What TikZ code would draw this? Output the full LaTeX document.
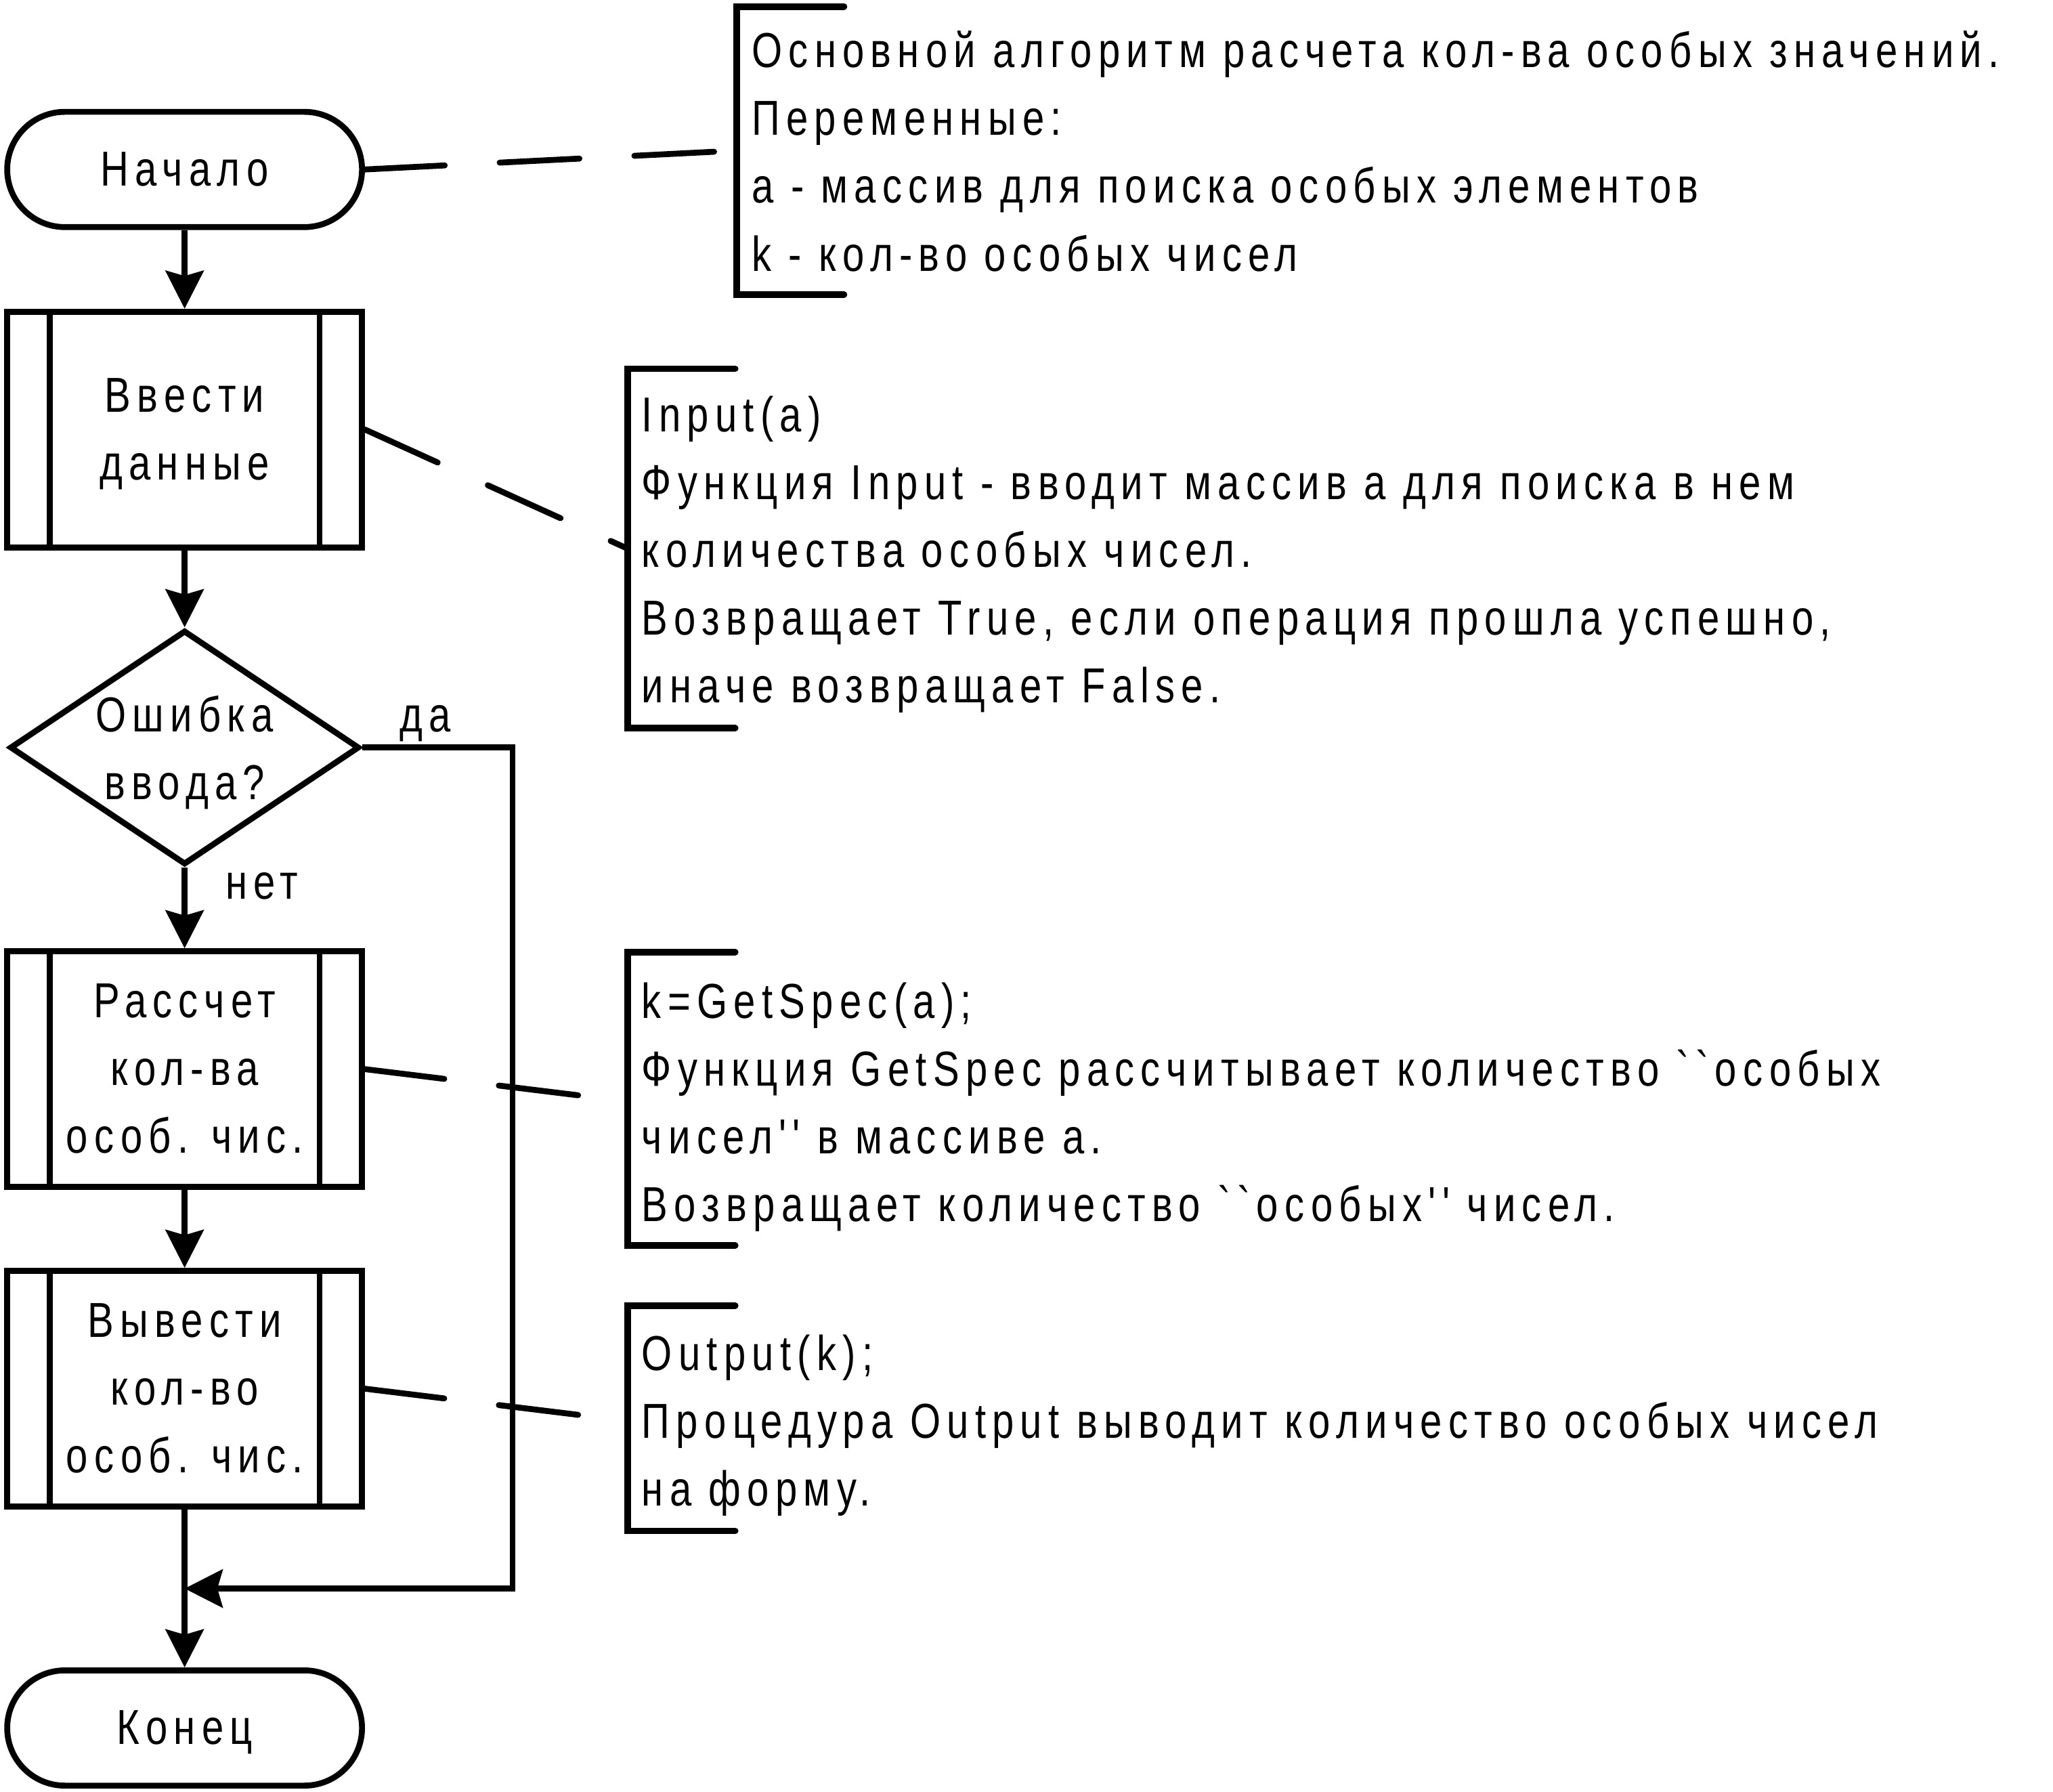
\documentclass[tikz,border=0pt]{standalone}
\usepackage{fontspec}
\newfontfamily\gost{Liberation Sans}[FakeStretch=0.8,LetterSpace=12.8]
\usetikzlibrary{arrows.meta,shapes.geometric}
\newcommand\fctext[2]{\raisebox{-#1pt}[0pt][0pt]{\vbox{\baselineskip=51.7pt\halign{\hfil##\hfil\cr#2\cr}}}}
\newcommand\notelines[1]{\vtop{\baselineskip=51.8pt\halign{##\hfil\cr#1\cr}}}
\tikzset{
  term/.style={draw, rectangle, rounded corners=44pt, minimum width=271pt, minimum height=88pt, inner sep=0pt},
  proc/.style={draw, rectangle, minimum width=271pt, minimum height=180pt, inner sep=0pt},
  decision/.style={draw, diamond, minimum width=267pt, minimum height=179pt, inner sep=0pt},
  flow/.style={-{Stealth[length=29pt,width=29pt,inset=4pt]}},
  lbl/.style={anchor=base west, inner sep=0pt},
  notetext/.style={anchor=base west, inner sep=0pt},
  bracket/.style={line width=5pt, line cap=round},
  callout/.style={dash pattern=on 61pt off 42pt, line cap=round},
}
\begin{document}
\begin{tikzpicture}[x=1pt, y=-1pt, line width=4.5pt, font=\gost\fontsize{37.5pt}{51.7pt}\selectfont]
\useasboundingbox (0,0) rectangle (1568,1368);

% flowchart nodes
\node[term] (start) at (141,129.4) {\fctext{12.5}{Начало}};
\node[proc] (inp) at (141,328) {\fctext{38.35}{Ввести\cr данные}};
\node[decision] (dec) at (141,570.8) {\fctext{39.5}{Ошибка\cr ввода?}};
\node[proc] (calc) at (141,816.4) {\fctext{64.2}{Рассчет\cr кол-ва\cr особ. чис.}};
\node[proc] (outp) at (141,1060.4) {\fctext{64.2}{Вывести\cr кол-во\cr особ. чис.}};
\node[term] (endn) at (141,1319.5) {\fctext{12.5}{Конец}};

\foreach \n in {inp,calc,outp}
  \draw ([xshift=34.6pt]\n.north west) -- ([xshift=34.6pt]\n.south west)
        ([xshift=-34.6pt]\n.north east) -- ([xshift=-34.6pt]\n.south east);

% labels
\node[lbl] (yes) at (303,559) {да};
\node[lbl] (no) at (170,686.6) {нет};

% connectors
\coordinate (rc) at (391.5,1213);
\coordinate (merge) at (141,1213);
\draw[flow] (start) -- (inp);
\draw[flow] (inp) -- (dec);
\draw[flow] (dec) -- (calc);
\draw[flow] (calc) -- (outp);
\draw[flow] (outp) -- (endn);
\draw[flow] (dec.east) -| (rc) -- (merge);

% notes
\node[notetext] (n1) at (572,51.5) {\notelines{Основной алгоритм расчета кол-ва особых значений.\cr
Переменные:\cr
a - массив для поиска особых элементов\cr
k - кол-во особых чисел}};
\node[notetext] (n2) at (488,329.5) {\notelines{Input(a)\cr
Функция Input - вводит массив a для поиска в нем\cr
количества особых чисел.\cr
Возвращает True, если операция прошла успешно,\cr
иначе возвращает False.}};
\node[notetext] (n3) at (488,777.5) {\notelines{k=GetSpec(a);\cr
Функция GetSpec рассчитывает количество ``особых\cr
чисел'' в массиве a.\cr
Возвращает количество ``особых'' чисел.}};
\node[notetext] (n4) at (488,1046.5) {\notelines{Output(k);\cr
Процедура Output выводит количество особых чисел\cr
на форму.}};

% brackets
\coordinate (b1t) at (562.6,5);   \coordinate (b1b) at (562.6,225);  \coordinate (b1m) at (562.6,115);
\coordinate (b2t) at (479.5,281.5); \coordinate (b2b) at (479.5,556); \coordinate (b2m) at (479.5,419);
\coordinate (b3t) at (479.5,727); \coordinate (b3b) at (479.5,951);  \coordinate (b3m) at (479.5,841);
\coordinate (b4t) at (479.5,997); \coordinate (b4b) at (479.5,1169); \coordinate (b4m) at (479.5,1085);
\draw[bracket] ([xshift=82pt]b1t) -- (b1t) -- (b1b) -- ([xshift=82pt]b1b);
\draw[bracket] ([xshift=82pt]b2t) -- (b2t) -- (b2b) -- ([xshift=82pt]b2b);
\draw[bracket] ([xshift=82pt]b3t) -- (b3t) -- (b3b) -- ([xshift=82pt]b3b);
\draw[bracket] ([xshift=82pt]b4t) -- (b4t) -- (b4b) -- ([xshift=82pt]b4b);

% callout dashed lines
\draw[callout] (start.east) -- (b1m);
\draw[callout] (inp.east) -- (b2m);
\draw[callout] (calc.east) -- (b3m);
\draw[callout] (outp.east) -- (b4m);
\end{tikzpicture}
\end{document}
